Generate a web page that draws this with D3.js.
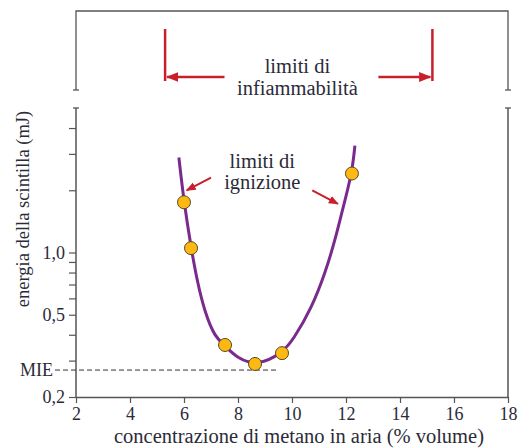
<!DOCTYPE html>
<html>
<head>
<meta charset="utf-8">
<script src="https://cdn.jsdelivr.net/npm/d3@7"></script>
<style>
  body { margin: 0; background: #fff; }
  text { font-family: "Liberation Serif", "Times New Roman", serif; fill: #2b2b38; }
</style>
</head>
<body>
<div id="chart"></div>
<script>
// Data
const curveX = [5.81, 6.0, 6.26, 6.48, 6.78, 7.15, 7.48, 8.0, 8.75, 9.63, 10.04, 10.74, 11.22, 11.59, 11.89, 12.22, 12.33];
const curveY = [2.88, 1.75, 1.06, 0.734, 0.508, 0.39, 0.358, 0.305, 0.284, 0.326, 0.377, 0.544, 0.79, 1.14, 1.65, 2.41, 3.29];
const pointX = [6.0, 6.26, 7.52, 8.63, 9.63, 12.22];
const pointY = [1.75, 1.05, 0.357, 0.289, 0.326, 2.41];
const mie = 0.27;
const flammLimits = [5.3, 15.2];
const xTicks = [2, 4, 6, 8, 10, 12, 14, 16, 18];
const yTicks = [0.2, 0.3, 0.4, 0.5, 0.6, 0.7, 0.8, 0.9, 1.0, 2, 3, 4];
const yLabels = { 0.2: "0,2", 0.5: "0,5", 1: "1,0" };

const width = 523;
const height = 448;
const margin = { top: 108, right: 15, bottom: 51, left: 76 };

const axisColor = "#555";
const red = "#c8202a";
const purple = "#7a2a8e";

const svg = d3.select("#chart")
  .append("svg")
    .attr("width", width)
    .attr("height", height);

const xScale = d3.scaleLinear()
  .domain([2, 18])
  .range([margin.left, width - margin.right]);
const yScale = d3.scaleLog()
  .domain([0.2, 5])
  .range([height - margin.bottom, margin.top]);

// arrowhead
svg.append("defs").append("marker")
    .attr("id", "head")
    .attr("viewBox", "0 0 10 10")
    .attr("refX", 9).attr("refY", 5)
    .attr("markerWidth", 5).attr("markerHeight", 5)
    .attr("orient", "auto")
  .append("path")
    .attr("d", "M0,1L10,5L0,9z")
    .attr("fill", red);

// Upper box
const boxTop = 11, boxBottom = 90;
svg.append("path")
    .attr("d", `M${xScale(2)},${boxBottom}V${boxTop}H${xScale(18)}V${boxBottom}`)
    .attr("fill", "none")
    .attr("stroke", axisColor)
    .attr("stroke-width", 1.3);
[2, 18].forEach(v => {
  svg.append("line")
      .attr("x1", xScale(v) - 3).attr("x2", xScale(v) + 3)
      .attr("y1", boxBottom).attr("y2", boxBottom)
      .attr("stroke", axisColor).attr("stroke-width", 1.3);
  svg.append("line")
      .attr("x1", xScale(v) - 3).attr("x2", xScale(v) + 3)
      .attr("y1", margin.top).attr("y2", margin.top)
      .attr("stroke", axisColor).attr("stroke-width", 1.3);
});

// Flammability limits
flammLimits.forEach(v => {
  svg.append("line")
      .attr("x1", xScale(v)).attr("x2", xScale(v))
      .attr("y1", 29).attr("y2", 81)
      .attr("stroke", red).attr("stroke-width", 2.5);
});
svg.append("line")
    .attr("x1", xScale(7.5)).attr("x2", xScale(flammLimits[0]) + 2)
    .attr("y1", 77).attr("y2", 77)
    .attr("stroke", red).attr("stroke-width", 2.5)
    .attr("marker-end", "url(#head)");
svg.append("line")
    .attr("x1", xScale(13.2)).attr("x2", xScale(flammLimits[1]) - 2)
    .attr("y1", 77).attr("y2", 77)
    .attr("stroke", red).attr("stroke-width", 2.5)
    .attr("marker-end", "url(#head)");
const flammText = svg.append("text")
    .attr("text-anchor", "middle")
    .attr("font-size", 20.5);
flammText.append("tspan").attr("x", xScale(10.2)).attr("y", 73).text("limiti di");
flammText.append("tspan").attr("x", xScale(10.2)).attr("y", 95).text("infiammabilità");

// Axes
const yAxis = d3.axisLeft(yScale)
  .tickValues(yTicks)
  .tickSize(7)
  .tickSizeOuter(0)
  .tickPadding(4)
  .tickFormat(d => yLabels[d] || "");
const gy = svg.append("g")
    .attr("transform", `translate(${margin.left},0)`)
    .call(yAxis);
gy.select(".domain").remove();
gy.append("line")
    .attr("y1", margin.top).attr("y2", height - margin.bottom)
    .attr("stroke", axisColor).attr("stroke-width", 1.5);
gy.selectAll(".tick line").attr("stroke", axisColor).attr("stroke-width", 1.2);
gy.selectAll(".tick text")
    .attr("font-size", 18)
    .attr("font-family", "Liberation Serif")
    .attr("fill", "#2b2b38");

const xAxis = d3.axisBottom(xScale)
  .tickValues(xTicks)
  .tickSize(6)
  .tickSizeOuter(0)
  .tickPadding(4);
const gx = svg.append("g")
    .attr("transform", `translate(0,${height - margin.bottom})`)
    .call(xAxis);
gx.select(".domain").attr("stroke", axisColor).attr("stroke-width", 1.5);
gx.selectAll(".tick line").attr("stroke", axisColor).attr("stroke-width", 1.2);
gx.selectAll(".tick text")
    .attr("font-size", 18)
    .attr("font-family", "Liberation Serif")
    .attr("fill", "#2b2b38");

// right border
svg.append("line")
    .attr("x1", xScale(18)).attr("x2", xScale(18))
    .attr("y1", margin.top).attr("y2", height - margin.bottom)
    .attr("stroke", axisColor).attr("stroke-width", 1.5);

// Axis titles
svg.append("text")
    .attr("x", 299)
    .attr("y", 443)
    .attr("text-anchor", "middle")
    .attr("font-size", 20.5)
    .text("concentrazione di metano in aria (% volume)");
svg.append("text")
    .attr("transform", "translate(29,209) rotate(-90)")
    .attr("text-anchor", "middle")
    .attr("font-size", 18.5)
    .text("energia della scintilla (mJ)");

// MIE
svg.append("line")
    .attr("x1", margin.left - 21).attr("x2", xScale(9.44))
    .attr("y1", yScale(mie)).attr("y2", yScale(mie))
    .attr("stroke", "#333").attr("stroke-width", 1)
    .attr("stroke-dasharray", "5,3");
svg.append("text")
    .attr("x", margin.left - 23)
    .attr("y", yScale(mie))
    .attr("dy", "0.35em")
    .attr("text-anchor", "end")
    .attr("font-size", 18)
    .text("MIE");

// Curve
const line = d3.line()
  .x((d, i) => xScale(curveX[i]))
  .y(d => yScale(d))
  .curve(d3.curveBasis);
svg.append("path")
    .datum(curveY)
    .attr("d", line)
    .attr("fill", "none")
    .attr("stroke", purple)
    .attr("stroke-width", 3);

// Ignition annotation
const ignText = svg.append("text")
    .attr("text-anchor", "middle")
    .attr("font-size", 20.5);
ignText.append("tspan").attr("x", xScale(8.9)).attr("y", 168).text("limiti di");
ignText.append("tspan").attr("x", xScale(8.9)).attr("y", 189).text("ignizione");
svg.append("line")
    .attr("x1", xScale(7.0)).attr("y1", yScale(2.3))
    .attr("x2", xScale(6.1)).attr("y2", yScale(2.0))
    .attr("stroke", red).attr("stroke-width", 2)
    .attr("marker-end", "url(#head)");
svg.append("line")
    .attr("x1", xScale(10.75)).attr("y1", yScale(2.0))
    .attr("x2", xScale(11.7)).attr("y2", yScale(1.72))
    .attr("stroke", red).attr("stroke-width", 2)
    .attr("marker-end", "url(#head)");

// Points
svg.append("g")
  .selectAll("circle")
  .data(pointX)
  .join("circle")
    .attr("cx", d => xScale(d))
    .attr("cy", (d, i) => yScale(pointY[i]))
    .attr("r", 6.5)
    .attr("fill", "#fdb813")
    .attr("stroke", "#5a4a20")
    .attr("stroke-width", 1);
</script>
</body>
</html>
